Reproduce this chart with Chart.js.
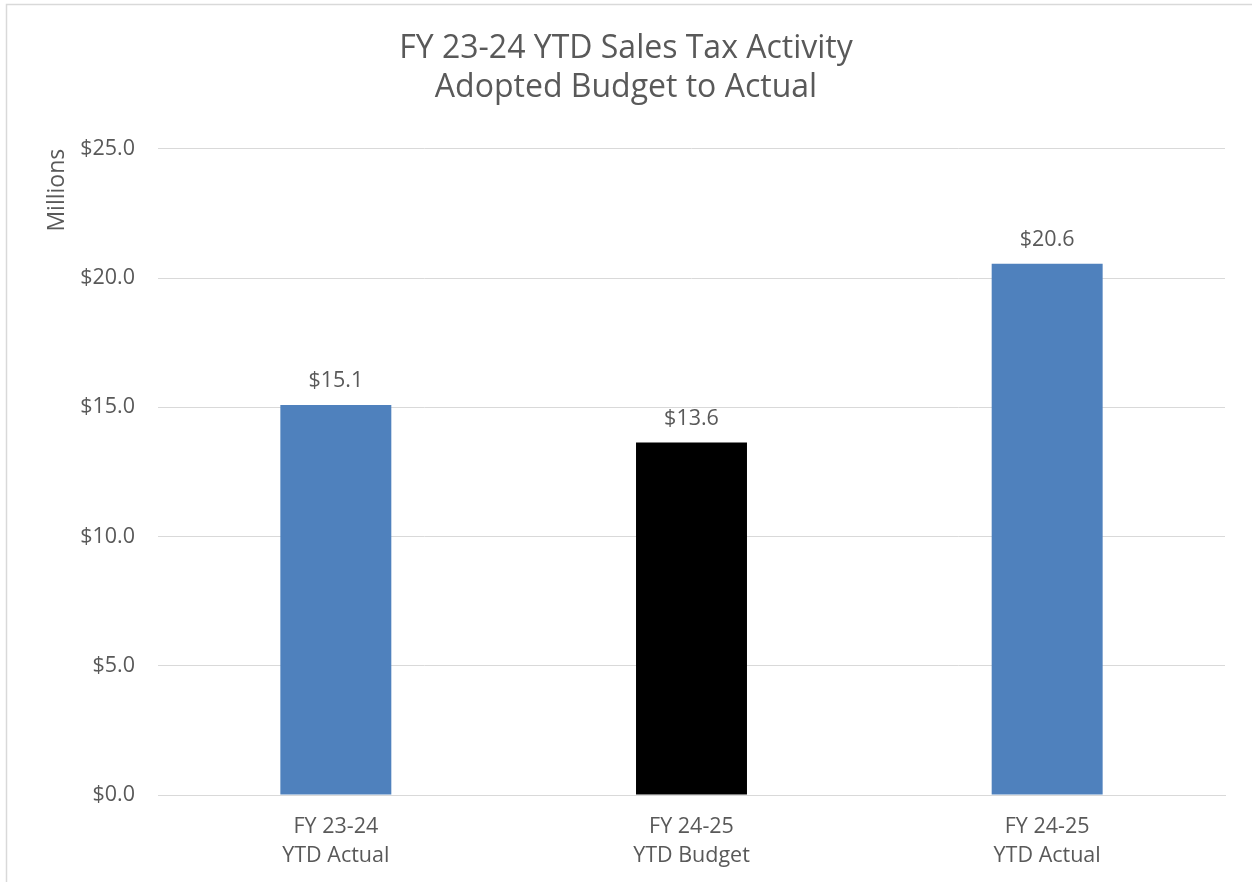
<!DOCTYPE html>
<html>
<head>
<meta charset="utf-8">
<script src="https://cdn.jsdelivr.net/npm/chart.js@4.4.1/dist/chart.umd.min.js"></script>
<style>
  html, body { margin: 0; padding: 0; background: #ffffff; }
  #wrap { position: relative; width: 1252px; height: 882px; }
</style>
</head>
<body>
<div id="wrap"><canvas id="c" width="1252" height="882"></canvas></div>
<script>
const titleLines = ["FY 23-24 YTD Sales Tax Activity", "Adopted Budget to Actual"];
const categories = [["FY 23-24", "YTD Actual"], ["FY 24-25", "YTD Budget"], ["FY 24-25", "YTD Actual"]];
const values = [15.09, 13.64, 20.55];
const barColors = ["#4F81BD", "#000000", "#4F81BD"];
const yAxisTitle = "Millions";
const yMin = 0, yMax = 25, yStep = 5;

const textColor = "#595959";
const gridColor = "#d9d9d9";
const fontFamily = "'Open Sans', 'Noto Sans', sans-serif";

const frame = {
  id: "frame",
  beforeDraw(chart) {
    const ctx = chart.ctx;
    ctx.save();
    ctx.strokeStyle = gridColor;
    ctx.lineWidth = 1.5;
    ctx.beginPath();
    ctx.moveTo(6.5, 882);
    ctx.lineTo(6.5, 4.5);
    ctx.lineTo(1252, 4.5);
    ctx.stroke();
    ctx.restore();
  }
};

const valueLabels = {
  id: "valueLabels",
  afterDatasetsDraw(chart) {
    const ctx = chart.ctx;
    const meta = chart.getDatasetMeta(0);
    ctx.save();
    ctx.fillStyle = textColor;
    ctx.font = "21.5px " + fontFamily;
    ctx.textAlign = "center";
    ctx.textBaseline = "middle";
    meta.data.forEach((bar, i) => {
      const v = chart.data.datasets[0].data[i];
      ctx.fillText("$" + v.toFixed(1), bar.x, bar.y - 24);
    });
    ctx.restore();
  }
};

new Chart(document.getElementById("c"), {
  type: "bar",
  data: {
    labels: categories,
    datasets: [{
      data: values,
      yAxisID: "y",
      backgroundColor: barColors,
      borderWidth: 0,
      categoryPercentage: 1.0,
      barPercentage: 0.312
    }]
  },
  options: {
    responsive: false,
    animation: false,
    devicePixelRatio: 1,
    layout: { padding: { left: 0, right: 0, top: 0, bottom: 0 } },
    plugins: {
      legend: { display: false },
      tooltip: { enabled: false },
      title: {
        display: true,
        text: titleLines,
        color: textColor,
        font: { family: fontFamily, size: 32, weight: "normal", lineHeight: 1.2 },
        padding: { top: 30, bottom: 42 }
      }
    },
    scales: {
      x: {
        grid: { display: false, drawTicks: false },
        border: { display: true, color: gridColor, width: 1 },
        ticks: {
          color: textColor,
          font: { family: fontFamily, size: 21.5, lineHeight: 1.35 },
          padding: 17.5,
          maxRotation: 0,
          autoSkip: false
        },
        afterFit(scale) { scale.height = 87; }
      },
      y: {
        position: "left",
        min: yMin,
        max: yMax,
        grid: { color: gridColor, lineWidth: 1, drawTicks: false },
        border: { display: false },
        ticks: {
          stepSize: yStep,
          color: textColor,
          font: { family: fontFamily, size: 21.5 },
          padding: 23,
          callback: (v) => "$" + Number(v).toFixed(1)
        },
        title: {
          display: true,
          text: yAxisTitle,
          align: "end",
          color: textColor,
          font: { family: fontFamily, size: 23, lineHeight: 1.2 },
          padding: { top: 44, bottom: 0 }
        },
        afterFit(scale) { scale.width = 158; }
      },
      yRightSpace: {
        position: "right",
        display: true,
        min: yMin,
        max: yMax,
        grid: { display: false, drawTicks: false },
        border: { display: false },
        ticks: { display: false },
        afterFit(scale) { scale.width = 27; }
      }
    }
  },
  plugins: [frame, valueLabels]
});
</script>
</body>
</html>
